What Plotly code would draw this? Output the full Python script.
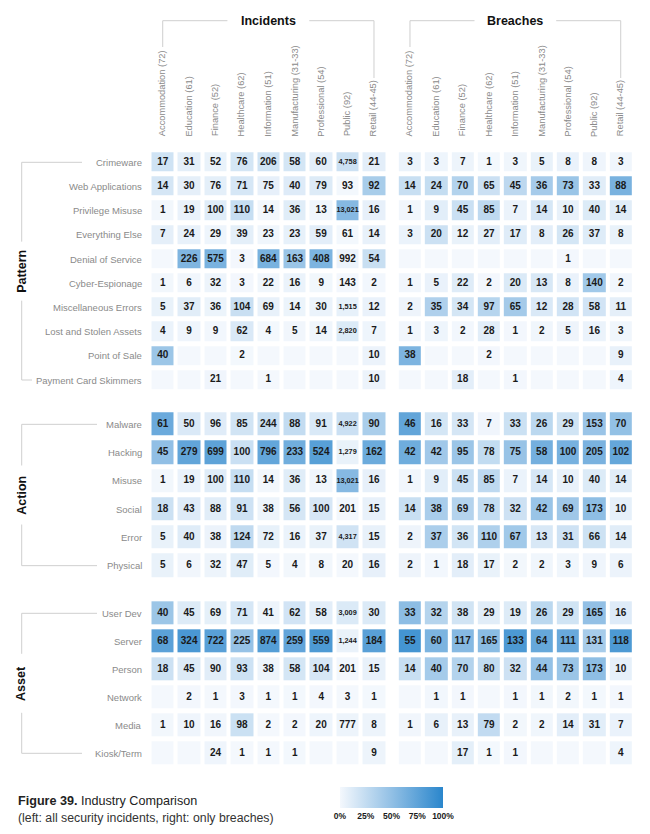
import plotly.graph_objects as go

# page body has an 8px default margin, so the figure is drawn 16px smaller
OFF = 8
W, H = 650 - 2 * OFF, 834 - 2 * OFF

# ---------------- data ----------------
industries = ["Accommodation (72)", "Education (61)", "Finance (52)", "Healthcare (62)",
              "Information (51)", "Manufacturing (31-33)", "Professional (54)",
              "Public (92)", "Retail (44-45)"]

pattern_rows = ["Crimeware", "Web Applications", "Privilege Misuse", "Everything Else",
                "Denial of Service", "Cyber-Espionage", "Miscellaneous Errors",
                "Lost and Stolen Assets", "Point of Sale", "Payment Card Skimmers"]
action_rows = ["Malware", "Hacking", "Misuse", "Social", "Error", "Physical"]
asset_rows = ["User Dev", "Server", "Person", "Network", "Media", "Kiosk/Term"]

N = None
inc_pattern = [
    [17, 31, 52, 76, 206, 58, 60, 4758, 21],
    [14, 30, 76, 71, 75, 40, 79, 93, 92],
    [1, 19, 100, 110, 14, 36, 13, 13021, 16],
    [7, 24, 29, 39, 23, 23, 59, 61, 14],
    [N, 226, 575, 3, 684, 163, 408, 992, 54],
    [1, 6, 32, 3, 22, 16, 9, 143, 2],
    [5, 37, 36, 104, 69, 14, 30, 1515, 12],
    [4, 9, 9, 62, 4, 5, 14, 2820, 7],
    [40, N, N, 2, N, N, N, N, 10],
    [N, N, 21, N, 1, N, N, N, 10],
]
br_pattern = [
    [3, 3, 7, 1, 3, 5, 8, 8, 3],
    [14, 24, 70, 65, 45, 36, 73, 33, 88],
    [1, 9, 45, 85, 7, 14, 10, 40, 14],
    [3, 20, 12, 27, 17, 8, 26, 37, 8],
    [N, N, N, N, N, N, 1, N, N],
    [1, 5, 22, 2, 20, 13, 8, 140, 2],
    [2, 35, 34, 97, 65, 12, 28, 58, 11],
    [1, 3, 2, 28, 1, 2, 5, 16, 3],
    [38, N, N, 2, N, N, N, N, 9],
    [N, N, 18, N, 1, N, N, N, 4],
]
inc_action = [
    [61, 50, 96, 85, 244, 88, 91, 4922, 90],
    [45, 279, 699, 100, 796, 233, 524, 1279, 162],
    [1, 19, 100, 110, 14, 36, 13, 13021, 16],
    [18, 43, 88, 91, 38, 56, 100, 201, 15],
    [5, 40, 38, 124, 72, 16, 37, 4317, 15],
    [5, 6, 32, 47, 5, 4, 8, 20, 16],
]
br_action = [
    [46, 16, 33, 7, 33, 26, 29, 153, 70],
    [42, 42, 95, 78, 75, 58, 100, 205, 102],
    [1, 9, 45, 85, 7, 14, 10, 40, 14],
    [14, 38, 69, 78, 32, 42, 69, 173, 10],
    [2, 37, 36, 110, 67, 13, 31, 66, 14],
    [2, 1, 18, 17, 2, 2, 3, 9, 6],
]
inc_asset = [
    [40, 45, 69, 71, 41, 62, 58, 3009, 30],
    [68, 324, 722, 225, 874, 259, 559, 1244, 184],
    [18, 45, 90, 93, 38, 58, 104, 201, 15],
    [N, 2, 1, 3, 1, 1, 4, 3, 1],
    [1, 10, 16, 98, 2, 2, 20, 777, 8],
    [N, N, 24, 1, 1, 1, N, N, 9],
]
br_asset = [
    [33, 32, 38, 29, 19, 26, 29, 165, 16],
    [55, 60, 117, 165, 133, 64, 111, 131, 118],
    [14, 40, 70, 80, 32, 44, 73, 173, 10],
    [N, 1, 1, N, 1, 1, 2, 1, 1],
    [1, 6, 13, 79, 2, 2, 14, 31, 7],
    [N, N, 17, 1, 1, N, N, N, 4],
]

legend_ticks = [0, 25, 50, 75, 100]
legend_labels = ["0%", "25%", "50%", "75%", "100%"]

# ---------------- helpers ----------------
def fx(p):
    return (p - OFF) / W

def fy(p):
    return 1 - (p - OFF) / H

def col_totals(m):
    return [sum((r[j] or 0) for r in m) for j in range(len(industries))]

inc_total = col_totals(inc_pattern)
br_total = col_totals(br_pattern)

def pct(m, tot):
    return [[(100.0 * v / tot[j] if v else 0) for j, v in enumerate(r)] for r in m]

# geometry (reference pixels)
group_x = {"inc": (149.5, 387.2), "br": (396.8, 633.9)}
sections = [
    ("Pattern", pattern_rows, inc_pattern, br_pattern, (150.2, 392.1), (82, 32)),
    ("Action", action_rows, inc_action, br_action, (410.2, 579.8), (97, 97)),
    ("Asset", asset_rows, inc_asset, br_asset, (599.3, 767.3), (97, 82)),
]

LINE = "#cfcfcf"
GRAY = "#8a8a8a"
DARK = "#1a1a1a"
CELLFONT = "Liberation Sans, Arial, sans-serif"
colorscale = [[0, "#f4f8fd"], [0.5, "#92c0e5"], [1, "#2a86cc"]]

fig = go.Figure()
layout = dict(width=W, height=H, margin=dict(l=0, r=0, t=0, b=0),
              paper_bgcolor="white", plot_bgcolor="white", showlegend=False,
              font=dict(family="Liberation Sans, Arial, sans-serif"),
              coloraxis=dict(
                  colorscale=colorscale, cmin=0, cmax=100,
                  colorbar=dict(orientation="h", x=fx(391.5), xanchor="center",
                                y=fy(786.5), yanchor="top", len=103, lenmode="pixels",
                                thickness=21, thicknessmode="pixels", outlinewidth=0,
                                xpad=0, ypad=0, ticks="", tickvals=legend_ticks,
                                ticktext=legend_labels,
                                tickfont=dict(size=8.5, color=DARK, family=CELLFONT,
                                              weight="bold"))))
annotations = []
shapes = []

k = 0
for si, (title, rows, inc_m, br_m, (ytop, ybot), (end_top, end_bot)) in enumerate(sections):
    n = len(rows)
    for gi, (gkey, m, tot) in enumerate([("inc", inc_m, inc_total), ("br", br_m, br_total)]):
        k += 1
        xa, ya = f"x{k}", f"y{k}"
        x0, x1 = group_x[gkey]
        layout[f"xaxis{k}"] = dict(domain=[fx(x0), fx(x1)], range=[-0.5, 8.5], visible=False,
                                   anchor=ya, fixedrange=True)
        layout[f"yaxis{k}"] = dict(domain=[fy(ybot), fy(ytop)], range=[n - 0.5, -0.5],
                                   visible=False, anchor=xa, fixedrange=True)
        fig.add_trace(go.Heatmap(
            z=pct(m, tot), x=list(range(len(industries))), y=list(range(n)),
            coloraxis="coloraxis", xgap=4, ygap=5, hoverinfo="skip",
            xaxis=xa, yaxis=ya))
        tx, ty, tt, ts = [], [], [], []
        for r, row in enumerate(m):
            for c, v in enumerate(row):
                if v is None:
                    continue
                tx.append(c)
                ty.append(r)
                if v >= 1000:
                    tt.append(f"<b>{v:,}</b>")
                    ts.append(7.3)
                else:
                    tt.append(f"<b>{v}</b>")
                    ts.append(10)
        fig.add_trace(go.Scatter(
            x=tx, y=ty, text=tt, mode="text", hoverinfo="skip",
            textfont=dict(size=ts, color=DARK, family=CELLFONT),
            xaxis=xa, yaxis=ya))
        if gi == 0:
            # row labels
            for r, name in enumerate(rows):
                annotations.append(dict(text=name, xref="paper", x=fx(143.5), xanchor="right",
                                        yref=ya, y=r, yanchor="middle", showarrow=False,
                                        font=dict(size=9.5, color=GRAY)))
            # section title + bracket
            mid = (n - 1) / 2
            pitch = (ybot - ytop) / n
            gap = 29.5 / pitch
            annotations.append(dict(text=f"<b>{title}</b>", xref="paper", x=fx(21.7),
                                    xanchor="center", yref=ya, y=mid, yanchor="middle",
                                    textangle=-90, showarrow=False,
                                    font=dict(size=12.5, color="#111")))
            lx = fx(21.7)
            shapes += [
                dict(type="line", xref="paper", yref=ya, x0=lx, x1=lx, y0=0, y1=mid - gap,
                     line=dict(color=LINE, width=1)),
                dict(type="line", xref="paper", yref=ya, x0=lx, x1=lx, y0=mid + gap, y1=n - 1,
                     line=dict(color=LINE, width=1)),
                dict(type="line", xref="paper", yref=ya, x0=lx, x1=fx(end_top), y0=0, y1=0,
                     line=dict(color=LINE, width=1)),
                dict(type="line", xref="paper", yref=ya, x0=lx, x1=fx(end_bot), y0=n - 1, y1=n - 1,
                     line=dict(color=LINE, width=1)),
            ]
        if si == 0:
            # column labels and group header
            for c, name in enumerate(industries):
                annotations.append(dict(text=name, xref=xa, x=c, xanchor="center",
                                        yref="paper", y=fy(138.5), yanchor="bottom",
                                        textangle=-90, showarrow=False,
                                        font=dict(size=9.3, color=GRAY)))
            head = "Incidents" if gkey == "inc" else "Breaches"
            annotations.append(dict(text=f"<b>{head}</b>", xref=xa, x=4, xanchor="center",
                                    yref="paper", y=fy(20.7), yanchor="middle", showarrow=False,
                                    font=dict(size=12.5, color="#111")))
            hy = fy(20.7)
            shapes += [
                dict(type="line", xref=xa, yref="paper", x0=0, x1=4 - 1.55, y0=hy, y1=hy,
                     line=dict(color=LINE, width=1)),
                dict(type="line", xref=xa, yref="paper", x0=4 + 1.55, x1=8, y0=hy, y1=hy,
                     line=dict(color=LINE, width=1)),
                dict(type="line", xref=xa, yref="paper", x0=0, x1=0, y0=hy, y1=fy(47),
                     line=dict(color=LINE, width=1)),
                dict(type="line", xref=xa, yref="paper", x0=8, x1=8, y0=hy, y1=fy(78),
                     line=dict(color=LINE, width=1)),
            ]

# caption
annotations.append(dict(text="<b>Figure 39.</b> Industry Comparison", xref="paper", x=fx(16),
                        xanchor="left", yref="paper", y=fy(801), yanchor="middle",
                        showarrow=False, font=dict(size=12.6, color="#222")))
annotations.append(dict(text="(left: all security incidents, right: only breaches)", xref="paper",
                        x=fx(16), xanchor="left", yref="paper", y=fy(817.5), yanchor="middle",
                        showarrow=False, font=dict(size=12.3, color="#333")))

layout["annotations"] = annotations
layout["shapes"] = shapes
fig.update_layout(**layout)
fig.write_html("out.html")
